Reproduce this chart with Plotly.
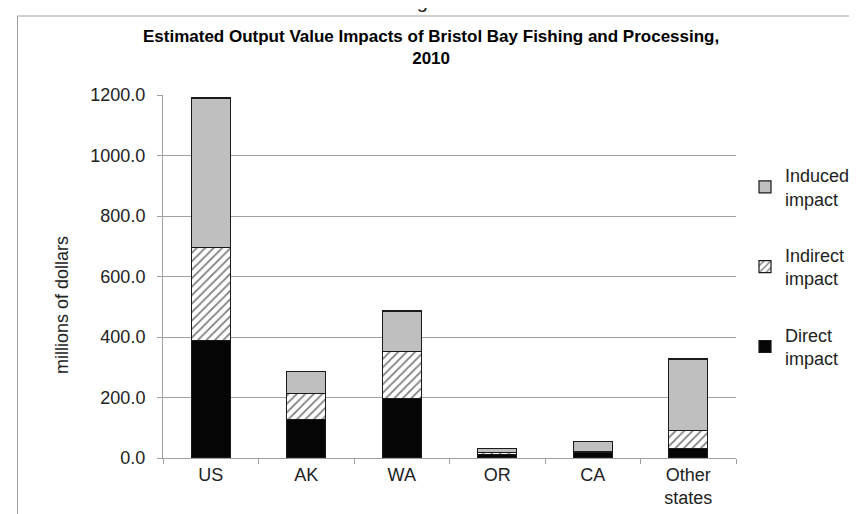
import plotly.graph_objects as go

categories = ["US", "AK", "WA", "OR", "CA", "Other<br>states"]
direct = [389, 127, 198, 12, 19, 32]
indirect = [308, 86, 155, 7, 3, 58]
induced = [493, 74, 133, 12, 33, 237]
y_ticks = [0, 200, 400, 600, 800, 1000, 1200]

W, H = 857, 514
L, R, T, B = 155, 129, 87, 64
pw, ph = W - L - R, H - T - B

def px(x):
    return (x - L) / pw

def py(y):
    return (H - B - y) / ph

FONT = "Liberation Sans, Arial, sans-serif"
TXT = "#222"
line = dict(color="#1a1a1a", width=1.2)

fig = go.Figure()
fig.add_trace(go.Bar(x=categories, y=direct, name="Direct<br>impact", legendrank=3,
                     marker=dict(color="#050505", line=line), legendgroup="a"))
fig.add_trace(go.Bar(x=categories, y=indirect, name="Indirect<br>impact", legendrank=2,
                     marker=dict(color="white", line=line,
                                 pattern=dict(shape="/", fgcolor="black", bgcolor="white",
                                              size=6, solidity=0.3)), legendgroup="b"))
fig.add_trace(go.Bar(x=categories, y=induced, name="Induced<br>impact", legendrank=1,
                     marker=dict(color="#BFBFBF", line=line), legendgroup="c"))

fig.update_layout(
    width=W, height=H, barmode="stack", bargap=0.59,
    margin=dict(l=L, r=R, t=T, b=B, autoexpand=False),
    paper_bgcolor="white", plot_bgcolor="white",
    font=dict(family=FONT, size=18, color=TXT),
    legend=dict(x=px(737), y=py(149), xanchor="left", yanchor="top",
                traceorder="grouped", tracegroupgap=30,
                font=dict(size=18, color=TXT), itemwidth=30,
                bgcolor="rgba(0,0,0,0)"),
    xaxis=dict(showline=True, linecolor="#A0A0A0", linewidth=1,
               ticks="outside", ticklen=5, tickcolor="#A0A0A0", tickson="boundaries",
               tickfont=dict(size=18, color=TXT)),
    yaxis=dict(range=[0, 1200], tickvals=y_ticks, tickformat=".1f",
               showgrid=True, gridcolor="#A0A0A0", gridwidth=1,
               showline=True, linecolor="#A0A0A0", linewidth=1,
               ticks="outside", ticklen=5, tickcolor="#A0A0A0", ticklabelstandoff=8,
               tickfont=dict(size=18, color=TXT), zeroline=False),
    showlegend=True,
)

fig.add_annotation(xref="paper", yref="paper", x=px(423), y=py(40),
                   text="<b>Estimated Output Value Impacts of Bristol Bay Fishing and Processing,<br>2010</b>",
                   showarrow=False, font=dict(size=17, color="black", family=FONT),
                   xanchor="center", yanchor="middle")
fig.add_annotation(xref="paper", yref="paper", x=px(437), y=py(6),
                   text="Figure 4-3", showarrow=False,
                   font=dict(size=20, color=TXT, family=FONT),
                   xanchor="center", yanchor="bottom")
fig.add_annotation(xref="paper", yref="paper", x=px(54), y=py(297),
                   text="millions of dollars", textangle=-90, showarrow=False,
                   font=dict(size=18, color=TXT, family=FONT),
                   xanchor="center", yanchor="middle")

frame = dict(color="#A0A0A0", width=1)
fig.add_shape(type="line", xref="paper", yref="paper", x0=px(9.5), x1=px(9.5),
              y0=py(8), y1=py(514), line=frame)
fig.add_shape(type="line", xref="paper", yref="paper", x0=px(9.5), x1=px(857),
              y0=py(8), y1=py(8), line=frame)

fig.write_html("out.html")
